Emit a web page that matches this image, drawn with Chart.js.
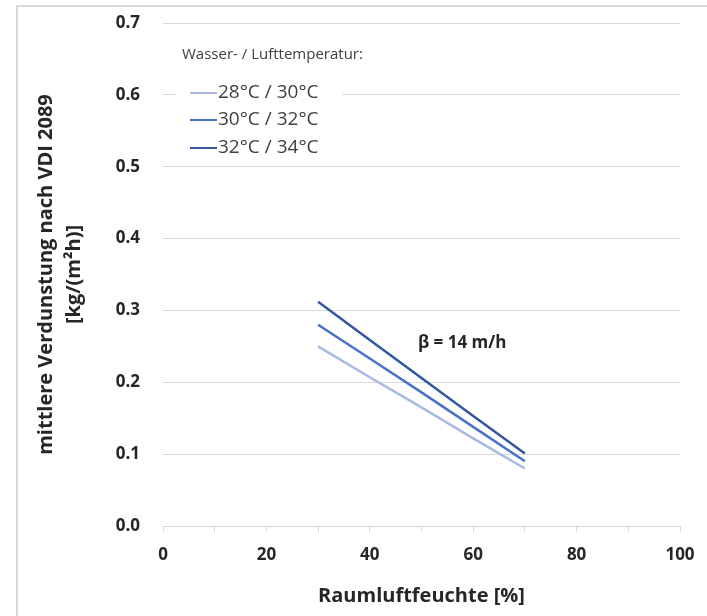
<!DOCTYPE html>
<html>
<head>
<meta charset="utf-8">
<script src="https://cdn.jsdelivr.net/npm/chart.js@4.4.1/dist/chart.umd.min.js"></script>
<style>
  body { margin: 0; background: #fff; }
  #wrap { width: 707px; height: 616px; }
</style>
</head>
<body>
<div id="wrap"><canvas id="myChart" width="707" height="616"></canvas></div>
<script>
// Data
const humidity = [30, 40, 50, 60, 70];
const series28 = [0.250, 0.207, 0.165, 0.122, 0.080];
const series30 = [0.280, 0.233, 0.186, 0.138, 0.090];
const series32 = [0.312, 0.259, 0.206, 0.153, 0.101];
const seriesNames = ["28°C / 30°C", "30°C / 32°C", "32°C / 34°C"];
const seriesColors = ["#a8b9e2", "#4a72c8", "#33579e"];
const yTicks = [0.0, 0.1, 0.2, 0.3, 0.4, 0.5, 0.6, 0.7];

const FONT = "'Open Sans', Lato, sans-serif";
const TEXT = "#262626";

function toPoints(vals) {
  return humidity.map((x, i) => ({ x: x, y: vals[i] }));
}

// outer frame, legend box and the beta label
const extras = {
  id: 'extras',
  afterDraw(chart) {
    const ctx = chart.ctx;
    const xs = chart.scales.x, ys = chart.scales.y;
    ctx.save();
    // frame
    ctx.strokeStyle = "#d9d9d9";
    ctx.lineWidth = 2;
    ctx.beginPath();
    ctx.moveTo(17, 616);
    ctx.lineTo(17, 6);
    ctx.lineTo(707, 6);
    ctx.stroke();

    // legend
    ctx.fillStyle = "#fff";
    ctx.fillRect(176, 38, 166, 124);
    ctx.fillStyle = "#404040";
    ctx.font = "15px " + FONT;
    ctx.textBaseline = "middle";
    ctx.textAlign = "left";
    ctx.fillText("Wasser- / Lufttemperatur:", 182, 55);
    const rows = [93, 120, 148];
    ctx.font = "19px " + FONT;
    seriesNames.forEach((name, i) => {
      ctx.strokeStyle = seriesColors[i];
      ctx.lineWidth = 2;
      ctx.beginPath();
      ctx.moveTo(190, rows[i]);
      ctx.lineTo(217, rows[i]);
      ctx.stroke();
      ctx.fillStyle = "#404040";
      ctx.fillText(name, 218, rows[i]);
    });

    // beta label
    ctx.fillStyle = TEXT;
    ctx.font = "bold 17px " + FONT;
    ctx.textAlign = "left";
    ctx.fillText("β = 14 m/h", xs.getPixelForValue(49.3), ys.getPixelForValue(0.254));
    ctx.restore();
  }
};

const chartX = document.getElementById('myChart').getContext('2d');
const chart = new Chart(chartX, {
  type: 'line',
  data: {
    datasets: [series28, series30, series32].map((vals, i) => ({
      label: seriesNames[i],
      data: toPoints(vals),
      borderColor: seriesColors[i],
      borderWidth: 2.5,
      pointRadius: 0,
      fill: false,
      tension: 0
    }))
  },
  options: {
    responsive: false,
    animation: false,
    layout: { padding: { left: 28, right: 27, top: 23, bottom: 4 } },
    plugins: {
      legend: { display: false },
      tooltip: { enabled: false }
    },
    scales: {
      x: {
        type: 'linear',
        min: 0,
        max: 100,
        afterBuildTicks(axis) {
          const t = [];
          for (let v = 0; v <= 100; v += 10) t.push({ value: v });
          axis.ticks = t;
        },
        afterFit(axis) {
          axis.height = 86;
          axis.paddingLeft = 0;
          axis.paddingRight = 0;
        },
        ticks: {
          autoSkip: false,
          maxRotation: 0,
          padding: 13,
          color: TEXT,
          font: { family: FONT, size: 17, weight: 'bold' },
          callback: v => (v % 20 === 0 ? String(v) : '')
        },
        grid: {
          drawOnChartArea: false,
          drawTicks: true,
          tickLength: 6,
          color: "#d9d9d9"
        },
        border: { display: true, color: "#d9d9d9" },
        title: {
          display: true,
          text: "Raumluftfeuchte [%]",
          color: TEXT,
          font: { family: FONT, size: 20, weight: 'bold' },
          padding: { top: 8 }
        }
      },
      y: {
        min: 0,
        max: 0.7,
        afterBuildTicks(axis) {
          axis.ticks = yTicks.map(v => ({ value: v }));
        },
        afterFit(axis) {
          axis.width = 135;
          axis.paddingTop = 0;
          axis.paddingBottom = 0;
        },
        ticks: {
          padding: 23,
          color: TEXT,
          font: { family: FONT, size: 17, weight: 'bold' },
          callback: v => v.toFixed(1)
        },
        grid: {
          drawTicks: false,
          color: "#d9d9d9"
        },
        border: { display: false },
        title: {
          display: true,
          text: ["mittlere Verdunstung nach VDI 2089", "[kg/(m²h)]"],
          color: TEXT,
          font: { family: FONT, size: 20, weight: 'bold', lineHeight: 1.4 },
          padding: { bottom: 6 }
        }
      }
    }
  },
  plugins: [extras]
});
</script>
</body>
</html>
